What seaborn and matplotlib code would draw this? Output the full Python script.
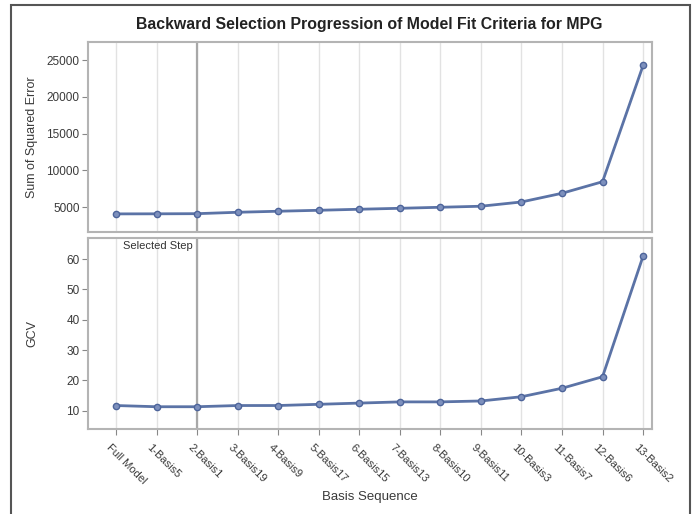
import matplotlib
matplotlib.use("Agg")
import matplotlib.pyplot as plt
import matplotlib.transforms as mtrans
import seaborn as sns
import pandas as pd
from matplotlib.patches import Rectangle

steps = ["Full Model", "1-Basis5", "2-Basis1", "3-Basis19", "4-Basis9", "5-Basis17",
         "6-Basis15", "7-Basis13", "8-Basis10", "9-Basis11", "10-Basis3", "11-Basis7",
         "12-Basis6", "13-Basis2"]
sse = [4100, 4110, 4130, 4320, 4460, 4590, 4730, 4860, 5000, 5140, 5720, 6900, 8470, 24260]
gcv = [11.7, 11.3, 11.3, 11.7, 11.7, 12.1, 12.5, 12.9, 12.9, 13.2, 14.6, 17.4, 21.2, 61.0]
selected = "2-Basis1"

sns.set_theme(style="white")
plt.rcParams['font.family'] = ['Liberation Sans', 'DejaVu Sans']

df = pd.DataFrame({"step": steps, "sse": sse, "gcv": gcv})

W, H = 699, 514
fig = plt.figure(figsize=(W / 100, H / 100), dpi=100)
fig.patch.set_facecolor("white")

def ax_at(x0, y0, x1, y1):
    return fig.add_axes([x0 / W, 1 - y1 / H, (x1 - x0) / W, (y1 - y0) / H])

ax1 = ax_at(88, 42, 652, 232)
ax2 = ax_at(88, 238, 652, 429)

line_col = "#5b73a6"
sel_idx = steps.index(selected)

for ax, col, lim in [(ax1, "sse", (1640, 27450)), (ax2, "gcv", (3.95, 67.0))]:
    for i in range(len(steps)):
        ax.axvline(i, color="#e2e2e2", lw=1.0, zorder=0)
    ax.axvline(sel_idx, color="#a8a8a8", lw=1.6, zorder=1)
    sns.lineplot(data=df, x="step", y=col, ax=ax, color=line_col, lw=2.0,
                 marker="o", markersize=4.5, markerfacecolor="#7d90bd",
                 markeredgecolor="#4d649a", markeredgewidth=1.0, sort=False, zorder=3)
    ax.set_xlim(-0.69, 13.22)
    ax.set_ylim(*lim)
    for s in ax.spines.values():
        s.set_color("#b4b4b4")
        s.set_linewidth(1.5)
    ax.tick_params(axis="y", direction="out", length=4, width=0.8, color="#888888",
                   labelsize=8.5, labelcolor="#3a3a3a", pad=2, left=True)
    ax.set_xticks(range(len(steps)))

ax1.set_yticks([5000, 10000, 15000, 20000, 25000])
ax1.tick_params(axis="x", bottom=False, labelbottom=False)
ax1.set_xlabel("")
ax1.set_ylabel("Sum of Squared Error", fontsize=9, color="#3a3a3a")
ax1.yaxis.set_label_coords((38 - 88) / 564, 0.5)

ax2.set_yticks([10, 20, 30, 40, 50, 60])
ax2.set_xticklabels(steps)
ax2.tick_params(axis="x", direction="out", length=4, width=0.8, color="#888888",
                labelsize=8.0, labelcolor="#3a3a3a", bottom=True, pad=4)
offset = mtrans.ScaledTranslation(-0.08, -0.06, fig.dpi_scale_trans)
for lbl in ax2.get_xticklabels():
    lbl.set_rotation(-45)
    lbl.set_ha("left")
    lbl.set_va("center")
    lbl.set_rotation_mode("anchor")
    lbl.set_transform(lbl.get_transform() + offset)
ax2.set_ylabel("GCV", fontsize=9, color="#3a3a3a")
ax2.yaxis.set_label_coords((38 - 88) / 564, 0.5)
ax2.set_xlabel("Basis Sequence", fontsize=9.5, color="#3a3a3a")
ax2.xaxis.set_label_coords(0.5, -(491 - 429) / 191)
ax2.text(sel_idx - 0.1, 0.985, "Selected Step", transform=ax2.get_xaxis_transform(),
         ha="right", va="top", fontsize=8, color="#333333")

fig.text(369 / W, 1 - 25 / H, "Backward Selection Progression of Model Fit Criteria for MPG",
         ha="center", va="center", fontsize=11.4, fontweight="bold", color="#222222")

fig.patches.append(Rectangle((11 / W, -0.02), (690 - 11) / W, 1 - 5 / H + 0.02,
                             transform=fig.transFigure, fill=False,
                             edgecolor="#555555", lw=1.5))

fig.savefig("out.png", dpi=100)
